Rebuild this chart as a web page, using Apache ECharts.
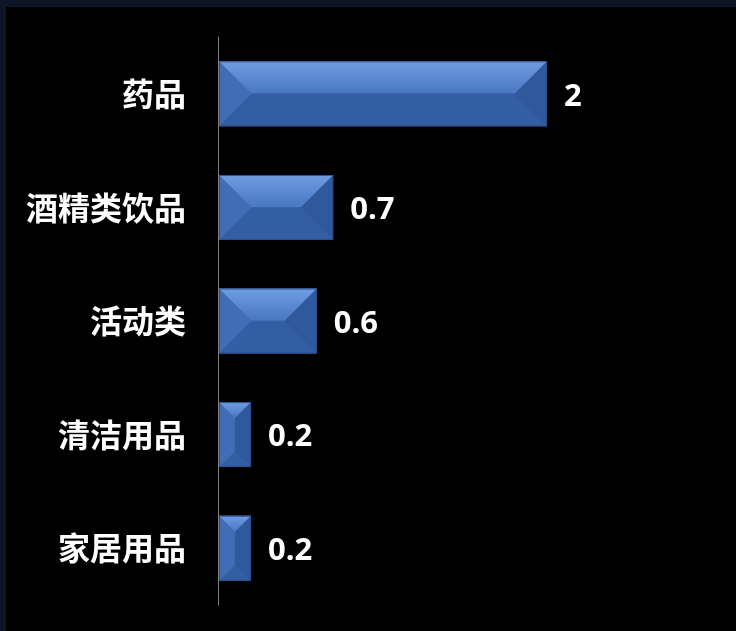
<!DOCTYPE html>
<html>
<head>
<meta charset="utf-8">
<script src="https://cdn.jsdelivr.net/npm/echarts@6/dist/echarts.min.js"></script>
<style>
  html, body { margin: 0; padding: 0; width: 736px; height: 631px; background: #0e1527; overflow: hidden; }
  #chart { position: absolute; left: 6px; top: 7px; width: 730px; height: 624px; background: #000; }
</style>
</head>
<body>
<div id="chart"></div>
<script>
// Categories, top to bottom
const categories = ['药品', '酒精类饮品', '活动类', '清洁用品', '家居用品'];
// Values per category
const values = [2, 0.7, 0.6, 0.2, 0.2];

const chart = echarts.init(document.getElementById('chart'));

// Bevelled bar: four sloped faces around a flat centre, plus a value label
function renderBevelBar(params, api) {
  const cat = api.value(1);
  const val = api.value(0);
  const start = api.coord([0, cat]);
  const end = api.coord([val, cat]);
  const band = api.size([0, 1])[1];
  const h = band * 0.572;
  const x0 = start[0] + 1;
  const x1 = end[0];
  const y0 = start[1] - h / 2;
  const y1 = start[1] + h / 2;
  const w = x1 - x0;
  const b = Math.min(32, w / 2, h / 2);

  const poly = (pts, fill) => ({ type: 'polygon', shape: { points: pts }, style: { fill: fill, stroke: null } });

  return {
    type: 'group',
    children: [
      // flat centre
      { type: 'rect', shape: { x: x0, y: y0, width: w, height: h }, style: { fill: '#3862aa' } },
      // bottom face
      poly([[x0, y1], [x1, y1], [x1 - b, y1 - b], [x0 + b, y1 - b]], '#345ea4'),
      // left face
      poly([[x0, y0], [x0 + b, y0 + b], [x0 + b, y1 - b], [x0, y1]], '#416db6'),
      // right face
      poly([[x1, y0], [x1, y1], [x1 - b, y1 - b], [x1 - b, y0 + b]], '#2f599c'),
      // top face, lit from above
      poly([[x0, y0], [x1, y0], [x1 - b, y0 + b], [x0 + b, y0 + b]], new echarts.graphic.LinearGradient(0, 0, 0, 1, [
        { offset: 0, color: '#709ce2' },
        { offset: 1, color: '#4977c0' }
      ])),
      // outline
      { type: 'rect', shape: { x: x0 + 0.5, y: y0 + 0.5, width: w - 1, height: h - 1 }, style: { fill: null, stroke: '#2b4f8c', lineWidth: 1 } },
      // value label
      {
        type: 'text',
        x: x1 + 17,
        y: start[1] + 3,
        style: {
          text: String(val),
          fill: '#ffffff',
          font: 'bold 31px "Open Sans", "Noto Sans", sans-serif',
          textAlign: 'left',
          textVerticalAlign: 'middle'
        }
      }
    ]
  };
}

chart.setOption({
  backgroundColor: '#000000',
  animation: false,
  grid: { left: 212, top: 30, width: 493.5, height: 568, containLabel: false },
  xAxis: {
    type: 'value',
    min: 0,
    max: 3,
    show: false
  },
  yAxis: {
    type: 'category',
    data: categories,
    inverse: true,
    axisLine: { show: true, lineStyle: { color: '#808080', width: 1 } },
    axisTick: { show: false },
    axisLabel: {
      color: '#ffffff',
      fontSize: 32,
      fontWeight: 'bold',
      fontFamily: '"Noto Sans CJK SC", sans-serif',
      margin: 32,
      padding: [3, 0, 0, 0]
    }
  },
  series: [{
    type: 'custom',
    renderItem: renderBevelBar,
    encode: { x: 0, y: 1 },
    data: values.map((v, i) => [v, i])
  }]
});
</script>
</body>
</html>
